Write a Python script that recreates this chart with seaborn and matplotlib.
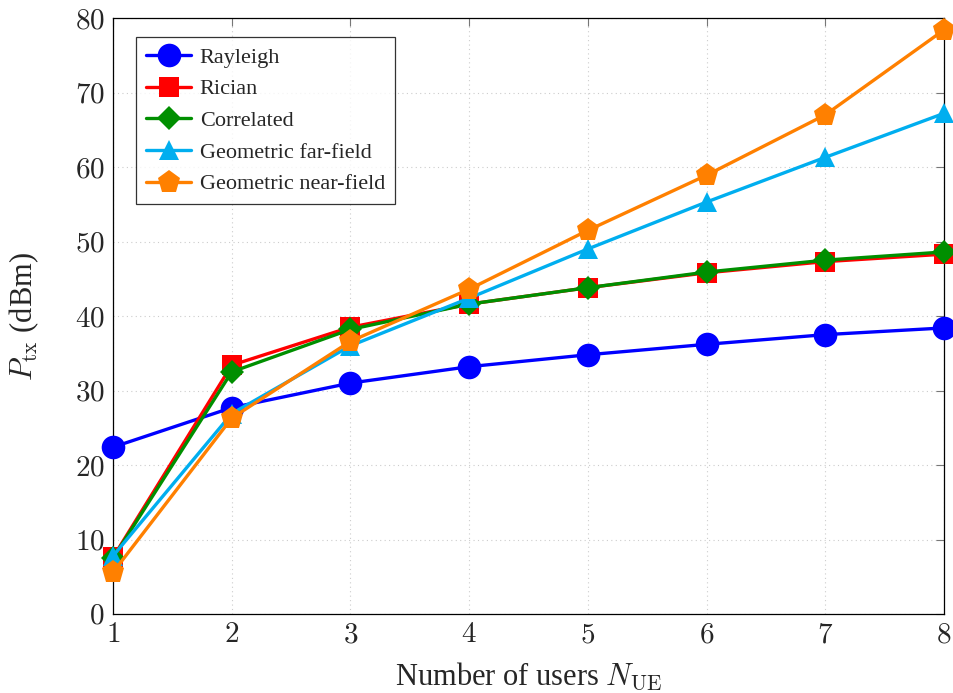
import pandas as pd
import numpy as np
import matplotlib
matplotlib.use("Agg")
import matplotlib.pyplot as plt
import seaborn as sns

# data
users = [1, 2, 3, 4, 5, 6, 7, 8]
rayleigh = [22.4, 27.7, 31.0, 33.2, 34.8, 36.2, 37.5, 38.4]
rician = [7.6, 33.4, 38.5, 41.6, 43.8, 45.8, 47.3, 48.3]
correlated = [7.5, 32.5, 38.2, 41.6, 43.8, 45.9, 47.5, 48.6]
far_field = [7.8, 26.9, 36.0, 42.4, 49.0, 55.3, 61.3, 67.2]
near_field = [5.6, 26.3, 36.6, 43.6, 51.5, 58.9, 67.0, 78.4]

series = {
    "Rayleigh": rayleigh,
    "Rician": rician,
    "Correlated": correlated,
    "Geometric far-field": far_field,
    "Geometric near-field": near_field,
}
colors = ["#0000ff", "#ff0000", "#008f00", "#00aeef", "#ff8000"]
markers = ["o", "s", "D", "^", "p"]
msizes = [17, 14, 12, 15, 17]

df = pd.DataFrame([(k, x, v) for k, vals in series.items() for x, v in zip(users, vals)],
                  columns=["scheme", "users", "ptx"])

sns.set_style("white")
plt.rcParams["font.family"] = ["Liberation Serif", "DejaVu Serif"]
plt.rcParams["mathtext.fontset"] = "cm"

fig = plt.figure(figsize=(9.54, 6.93), dpi=100)
ax = fig.add_axes([0.1185, 0.114, 0.871, 0.86])

for (name, c, m, ms) in zip(series.keys(), colors, markers, msizes):
    sub = df[df["scheme"] == name]
    sns.lineplot(data=sub, x="users", y="ptx", ax=ax, color=c, marker=m,
                 markersize=ms, markeredgewidth=0, linewidth=2.4, label=name,
                 clip_on=False, zorder=3)

ax.set_xlim(1, 8)
ax.set_ylim(0, 80)
ax.set_xticks(users)
ax.set_yticks(range(0, 81, 10))
ax.set_xticklabels([f"${u}$" for u in users], fontsize=21)
ax.set_yticklabels([f"${v}$" for v in range(0, 81, 10)], fontsize=21)
ax.grid(True, color="#cccccc", linestyle=(0, (1, 3)), linewidth=0.8)
ax.tick_params(direction="in", top=True, right=True, length=6, color="#777777", pad=6)
for s in ax.spines.values():
    s.set_color("black")
    s.set_linewidth(0.9)

ax.set_xlabel(r"Number of users $N_{\mathrm{UE}}$", fontsize=22, labelpad=9)
ax.set_ylabel(r"$P_{\mathrm{tx}}$ (dBm)", fontsize=22, labelpad=24)

leg = ax.legend(loc="upper left", bbox_to_anchor=(0.028, 0.968), fontsize=16,
                frameon=True, fancybox=False, edgecolor="black", handlelength=2.0,
                borderpad=0.45, labelspacing=0.5, handletextpad=0.4, borderaxespad=0)
leg.get_frame().set_linewidth(0.9)

fig.savefig("out.png", dpi=100)
